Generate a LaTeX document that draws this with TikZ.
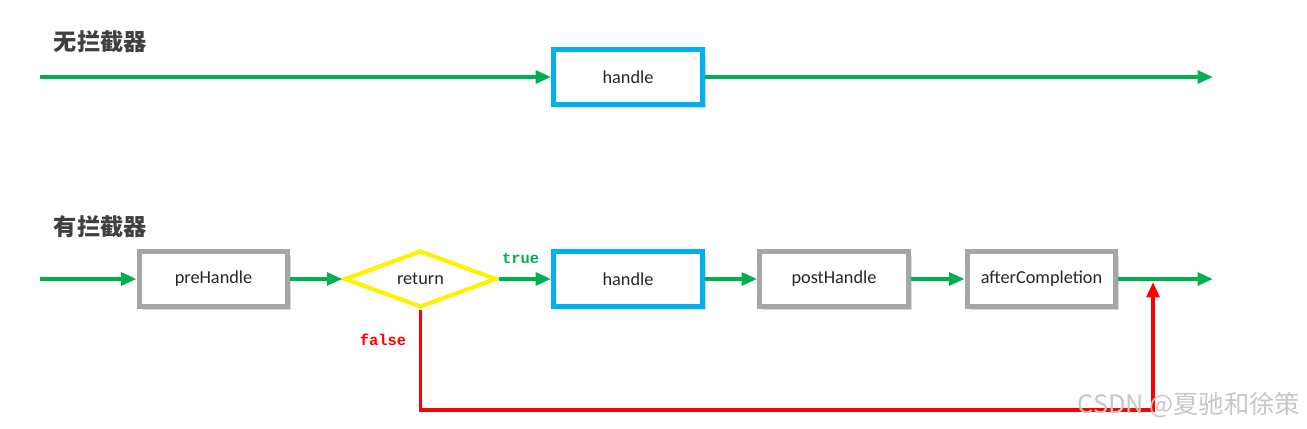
\documentclass[tikz,border=0pt]{standalone}
\usepackage{fontspec}
\setmainfont{Carlito}
\newfontfamily\cjkfont{Noto Sans CJK SC}
\newfontfamily\codefont{Liberation Mono}
\usetikzlibrary{arrows.meta,shapes.geometric,shadows}

\definecolor{flowgreen}{RGB}{0,176,80}
\definecolor{boxblue}{RGB}{0,176,240}
\definecolor{boxgray}{RGB}{166,166,166}
\definecolor{titlegray}{RGB}{64,64,64}

\begin{document}
\begin{tikzpicture}[x=0.025cm,y=-0.025cm,
  box/.style={draw=boxgray,line width=3.5pt,fill=white,minimum width=3.72cm,minimum height=1.36cm,
    font=\fontsize{13}{15}\selectfont,text=black!85,drop shadow={opacity=0.3,shadow xshift=2.5pt,shadow yshift=-3pt}},
  handlebox/.style={box,draw=boxblue},
  decision/.style={diamond,draw=yellow,line width=3pt,fill=white,aspect=2.6,inner sep=1pt,
    minimum width=3.8cm,minimum height=1.42cm,font=\fontsize{13}{15}\selectfont,text=black!85},
  flow/.style={flowgreen,line width=2.8pt,-{Triangle[length=11pt,width=9pt]}},
  back/.style={red,line width=2.8pt,-{Triangle[length=11pt,width=9pt]}},
  title/.style={font=\cjkfont\bfseries\fontsize{16.5}{18}\selectfont,text=titlegray,anchor=west},
  cond/.style={font=\codefont\bfseries\fontsize{11}{12}\selectfont}]
\useasboundingbox (0,0) rectangle (1307,428);

% without interceptor
\node[title] (titleA) at (49,42) {无拦截器};
\coordinate (inA) at (40,77);
\node[handlebox] (handleA) at (628,77) {handle};
\coordinate (outA) at (1213,77);
\draw[flow] (inA) -- (handleA);
\draw[flow] (handleA) -- (outA);

% with interceptor
\node[title] (titleB) at (49,227) {有拦截器};
\coordinate (inB) at (40,279);
\node[box] (pre) at (213.5,279) {preHandle};
\node[decision] (ret) at (420.5,279) {return};
\node[handlebox] (handleB) at (628,279) {handle};
\node[box] (post) at (834,279) {postHandle};
\node[box] (after) at (1041.5,279) {afterCompletion};
\coordinate (outB) at (1213,279);
\coordinate (join) at (1153,282);
\draw[flow] (inB) -- (pre);
\draw[flow] (pre) -- (ret);
\draw[flow] (ret) -- node[cond,flowgreen,above=6pt,xshift=-3pt] (trueLbl) {true} (handleB);
\draw[flow] (handleB) -- (post);
\draw[flow] (post) -- (after);
\draw[flow] (after) -- (outB);
\draw[back] (ret.south) -- (420.5,410) -- (1153,410) -- (join);
\node[cond,red] (falseLbl) at (383,340) {false};

\node[font=\cjkfont\fontsize{18}{20}\selectfont,text=black!22,anchor=east] (mark) at (1305,405) {CSDN @夏驰和徐策};
\end{tikzpicture}
\end{document}
